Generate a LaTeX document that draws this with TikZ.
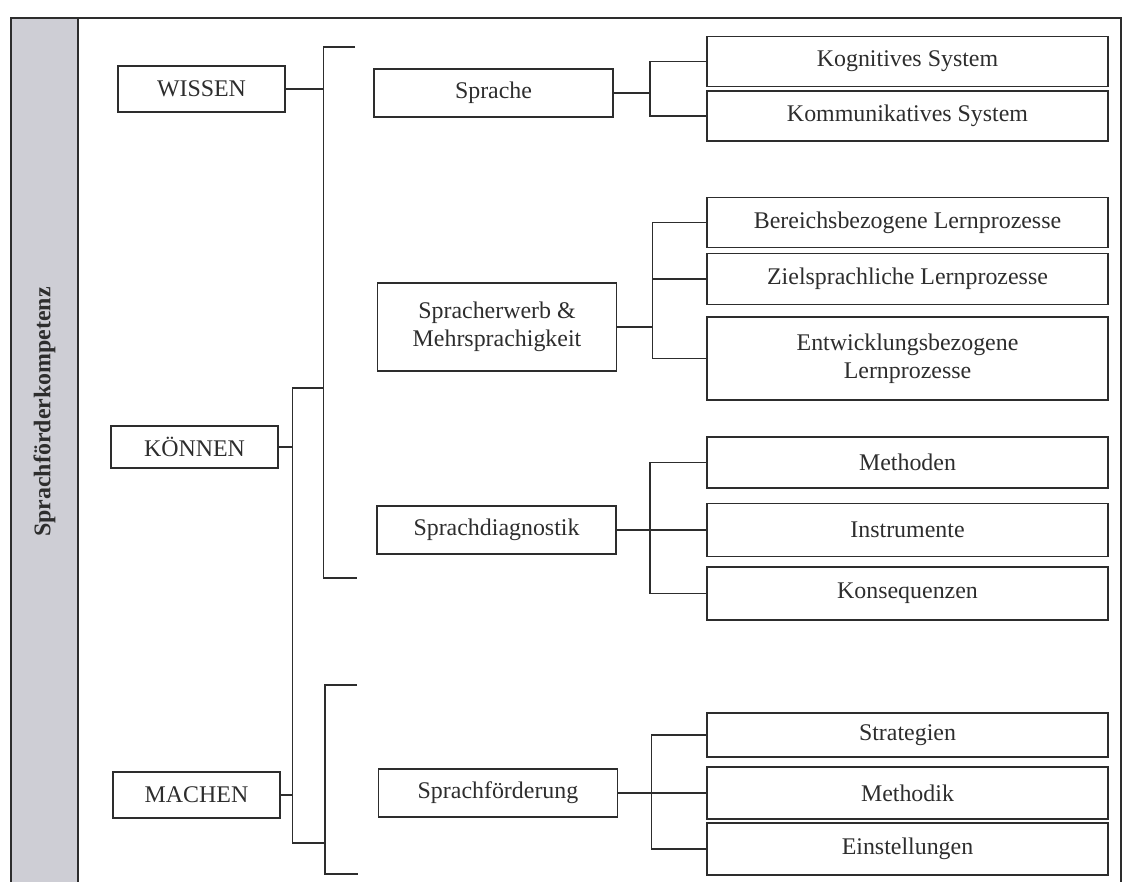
\documentclass[tikz,border=0pt]{standalone}
\usepackage{fontspec}
\setmainfont{Liberation Serif}
\definecolor{sidebar}{RGB}{206,206,213}
\definecolor{ink}{RGB}{45,45,45}
\begin{document}
\begin{tikzpicture}[x=0.025cm,y=-0.025cm,line width=1pt,draw=ink,
    every node/.style={font=\fontsize{17}{20}\selectfont,text=ink},
    leftbox/.style={draw=ink,minimum width=4.17cm,minimum height=1.15cm,inner sep=2pt},
    midbox/.style={draw=ink,minimum width=5.98cm,minimum height=1.2cm,align=center,inner sep=2pt},
    rightbox/.style={draw=ink,minimum width=10.02cm,minimum height=1.24cm,align=center,inner sep=2pt}]
  \useasboundingbox (0,0) rectangle (1135,881);
  \filldraw[fill=sidebar,draw=ink] (11,18) rectangle (78,890);
  \draw[ink] (78,18) -- (1121,18) -- (1121,890);
  \draw[ink]
    (44.5,412) node[rotate=90,font=\fontsize{17}{20}\selectfont\bfseries] (title){Sprachförderkompetenz}
    (201.5,89) node[leftbox] (wi){WISSEN}
    (194.5,447) node[leftbox,minimum height=1.05cm] (kn){KÖNNEN}
    (196.5,795) node[leftbox] (ma){MACHEN}
    (493.5,93) node[midbox] (sp){Sprache}
    (497,327) node[midbox,minimum height=2.2cm] (se){Spracherwerb \&\\Mehrsprachigkeit}
    (496.5,530) node[midbox] (sd){Sprachdiagnostik}
    (498,793) node[midbox] (sf){Sprachförderung}
    (907.5,61.5) node[rightbox] (kog){Kognitives System}
    (907.5,116) node[rightbox] (kom){Kommunikatives System}
    (907.5,222.5) node[rightbox] (ber){Bereichsbezogene Lernprozesse}
    (907.5,279) node[rightbox,minimum height=1.28cm] (zie){Zielsprachliche Lernprozesse}
    (907.5,358.5) node[rightbox,minimum height=2.08cm] (ent){Entwicklungsbezogene\\Lernprozesse}
    (907.5,462.5) node[rightbox,minimum height=1.27cm] (met){Methoden}
    (907.5,530) node[rightbox,minimum height=1.32cm] (ins){Instrumente}
    (907.5,593.5) node[rightbox,minimum height=1.32cm] (kon){Konsequenzen}
    (907.5,735) node[rightbox,minimum height=1.1cm] (str){Strategien}
    (907.5,793) node[rightbox,minimum height=1.3cm] (mek){Methodik}
    (907.5,849) node[rightbox,minimum height=1.3cm] (ein){Einstellungen};
  \coordinate (b1top) at (355,47);
  \coordinate (b1bot) at (357,578);
  \coordinate (j1) at (323,388);
  \coordinate (j3) at (325,843);
  \coordinate (b3top) at (357,685);
  \coordinate (b3bot) at (358,874);
  \begin{scope}[-,ink]
    \draw (wi.east) -- ++(38,0) coordinate (b1);
    \draw (b1top) -| (b1) |- (b1bot);
    \draw (kn.east) -- ++(14,0) coordinate (b2);
    \draw (j1) -| (b2) |- (j3);
    \draw (ma.east) -- (ma.east -| b2);
    \draw (b3top) -| (j3) |- (b3bot);
    \draw (sp.east) -- ++(36,0) coordinate (spb);
    \draw (kog.west) -| (spb) |- (kom.west);
    \draw (se.east) -- ++(35,0) coordinate (seb);
    \draw (ber.west) -| (seb) |- (ent.west);
    \draw (zie.west) -- (zie.west -| seb);
    \draw (sd.east) -- (ins.west);
    \draw (sd.east) ++(33,0) coordinate (sdb);
    \draw (met.west) -| (sdb) |- (kon.west);
    \draw (sf.east) -- (mek.west);
    \draw (sf.east) ++(33,0) coordinate (sfb);
    \draw (str.west) -| (sfb) |- (ein.west);
  \end{scope}
\end{tikzpicture}
\end{document}
